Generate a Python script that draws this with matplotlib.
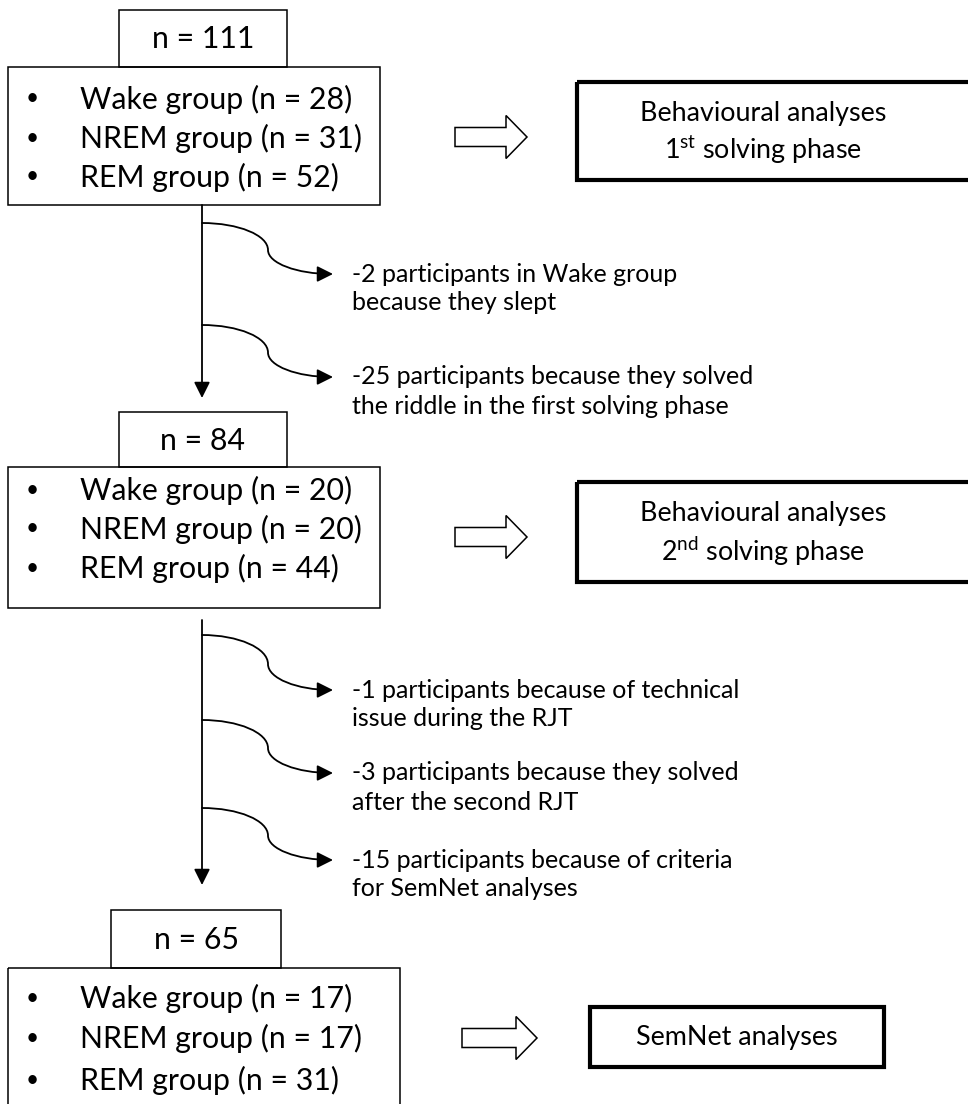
import matplotlib
matplotlib.use("Agg")
import matplotlib.pyplot as plt
from matplotlib.patches import Rectangle, Polygon, FancyArrowPatch
from matplotlib.path import Path

plt.rcParams['font.family'] = ['Lato', 'DejaVu Sans']
plt.rcParams['mathtext.fontset'] = 'custom'
plt.rcParams['mathtext.rm'] = 'Lato'
plt.rcParams['mathtext.it'] = 'Lato:italic'
plt.rcParams['mathtext.bf'] = 'Lato:bold'

# ---- data ----
totals = [111, 84, 65]
group_names = ["Wake group", "NREM group", "REM group"]
stage1_counts = [28, 31, 52]
stage2_counts = [20, 20, 44]
stage3_counts = [17, 17, 31]
analysis_labels = [
    "Behavioural analyses\n1$^{\\mathrm{st}}$ solving phase",
    "Behavioural analyses\n2$^{\\mathrm{nd}}$ solving phase",
    "SemNet analyses",
]
exclusions_1 = [
    "-2 participants in Wake group\nbecause they slept",
    "-25 participants because they solved\nthe riddle in the first solving phase",
]
exclusions_2 = [
    "-1 participants because of technical\nissue during the RJT",
    "-3 participants because they solved\nafter the second RJT",
    "-15 participants because of criteria\nfor SemNet analyses",
]

W, H = 968, 1104
fig = plt.figure(figsize=(W / 100, H / 100), dpi=100)
ax = fig.add_axes([0, 0, 1, 1])
ax.set_xlim(0, W)
ax.set_ylim(H, 0)
ax.axis('off')

renderer = fig.canvas.get_renderer()


def fit(text, target_px, base=20):
    t = ax.text(0, 0, text, fontsize=base)
    w = t.get_window_extent(renderer).width
    t.remove()
    return base * target_px / w


fs_main = fit("Wake group (n = 28)", 272)
fs_note = fit("-25 participants because they solved", 403)
fs_right = fit("Behavioural analyses", 247)

LW_THIN = 1.1
LW_THICK = 3.0
ARROW = dict(arrowstyle='-|>,head_length=0.6,head_width=0.3', mutation_scale=16,
             color='black', lw=1.3, shrinkA=0, shrinkB=0)
K = 0.5523


def group_block(n_total, counts, nbox, mbox, line_ys):
    nx0, ny0, nx1, ny1 = nbox
    ax.add_patch(Rectangle((nx0, ny0), nx1 - nx0, ny1 - ny0, fill=False,
                           lw=LW_THIN, ec='black'))
    ax.text((nx0 + nx1) / 2, (ny0 + ny1) / 2 + 1, f"n = {n_total}", ha='center',
            va='center', fontsize=fs_main)
    mx0, my0, mx1, my1 = mbox
    ax.add_patch(Rectangle((mx0, my0), mx1 - mx0, my1 - my0, fill=False,
                           lw=LW_THIN, ec='black'))
    for name, c, y in zip(group_names, counts, line_ys):
        ax.text(32, y, "\u2022", ha='center', va='center', fontsize=fs_main * 0.75)
        ax.text(80, y, f"{name} (n = {c})", ha='left', va='center', fontsize=fs_main)


def hollow_arrow(x0, x1, yc):
    xh = x1 - 21
    pts = [(x0, yc - 9.5), (xh, yc - 9.5), (xh, yc - 21.5), (x1, yc),
           (xh, yc + 21.5), (xh, yc + 9.5), (x0, yc + 9.5)]
    ax.add_patch(Polygon(pts, closed=True, fc='white', ec='black', lw=1.1,
                         joinstyle='miter'))


def right_box(box, label, yc_lines, xc=None):
    x0, y0, x1, y1 = box
    ax.add_patch(Rectangle((x0, y0), x1 - x0, y1 - y0, fill=False,
                           lw=LW_THICK, ec='black', joinstyle='miter'))
    if xc is None:
        xc = (x0 + x1) / 2
    for ln, y in zip(label.split("\n"), yc_lines):
        ax.text(xc, y, ln, ha='center', va='center', fontsize=fs_right)


def curved(xs, ys, ye, text, xm=268, xe=333):
    ym = ys + 0.53 * (ye - ys)
    verts = [(xs, ys), (xs + K * (xm - xs), ys), (xm, ym - K * (ym - ys)), (xm, ym),
             (xm, ym + K * (ye - ym)), (xm + (1 - K) * 0 + K * 0 + (xe - xm) * (1 - K), ye),
             (xe, ye)]
    codes = [Path.MOVETO, Path.CURVE4, Path.CURVE4, Path.CURVE4,
             Path.CURVE4, Path.CURVE4, Path.CURVE4]
    ax.add_patch(FancyArrowPatch(path=Path(verts, codes), **ARROW))
    l1, l2 = text.split("\n")
    ax.text(352, ye, l1, ha='left', va='center', fontsize=fs_note)
    ax.text(352, ye + 29, l2, ha='left', va='center', fontsize=fs_note)


XV = 202
# ---- block 1 ----
group_block(totals[0], stage1_counts, (119, 10, 287, 67), (8, 67, 380, 205),
            [99, 138, 177])
hollow_arrow(455, 527, 137)
right_box((577, 82, 1000, 180), analysis_labels[0], [113, 150], xc=763)
ax.add_patch(FancyArrowPatch((XV, 205), (XV, 398), **ARROW))
for ys, ye, t in zip([223, 325], [274, 377], exclusions_1):
    curved(XV, ys, ye, t)

# ---- block 2 ----
group_block(totals[1], stage2_counts, (119, 412, 287, 467), (8, 467, 380, 608),
            [490, 529, 568])
hollow_arrow(455, 527, 537)
right_box((577, 482, 1000, 582), analysis_labels[1], [514, 552], xc=763)
ax.add_patch(FancyArrowPatch((XV, 620), (XV, 885), **ARROW))
for ys, ye, t in zip([635, 720, 808], [690, 773, 860], exclusions_2):
    curved(XV, ys, ye, t)

# ---- block 3 ----
group_block(totals[2], stage3_counts, (111, 910, 281, 968), (8, 968, 400, 1120),
            [998, 1038, 1080])
hollow_arrow(462, 537, 1038)
right_box((590, 1007, 884, 1067), analysis_labels[2], [1037])

fig.savefig("out.png", dpi=100)
